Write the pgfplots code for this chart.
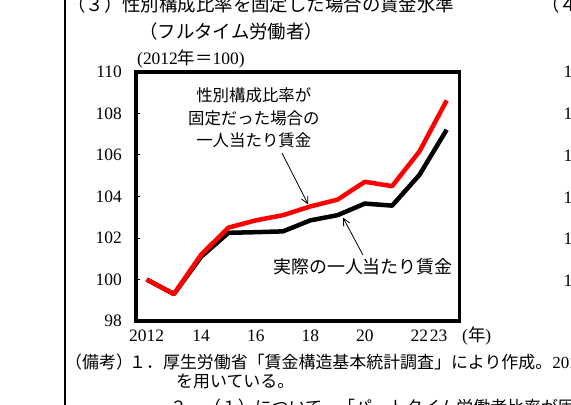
\documentclass[border=0pt]{standalone}
\usepackage{fontspec}
\setmainfont{Liberation Serif}
\newfontfamily\jp{Noto Sans CJK JP}
\usepackage{pgfplots}
\pgfplotsset{compat=1.18}
\usetikzlibrary{arrows.meta}

\newcommand\fs[2]{\fontsize{#1}{#2}\selectfont}

\begin{document}
\begin{tikzpicture}[x=1bp,y=1bp]
\useasboundingbox (0,0) rectangle (571,404);
\clip (0,0) rectangle (571,404);

% page frame and headings
\draw[line width=1.2bp] (65,-5) -- (65,410);
\node[anchor=base west, inner sep=0pt] at (67,392.5) {\jp\fs{18.5}{20}（３）性別構成比率を固定した場合の賃金水準};
\node[anchor=base west, inner sep=0pt] at (541,392.5) {\jp\fs{18.5}{20}（４）};
\node[anchor=base west, inner sep=0pt] at (139,365.5) {\jp\fs{18.5}{20}（フルタイム労働者）};
\node[anchor=base west, inner sep=0pt] at (137,340) {\fs{17.5}{18}(2012{\jp 年＝}100)};

% tick labels of the next panel, cut by the edge
\foreach \k/\v in {0/110,1/108,2/106,3/104,4/102,5/100}
  \node[anchor=west, inner sep=0pt] at (563.5,{404-72-41.8*\k}) {\fs{17.5}{18}\v};

% notes
\node[anchor=base west, inner sep=0pt] at (65,35.5) {\jp\fs{17}{18}（備考）};
\node[anchor=base west, inner sep=0pt] at (129,35.5) {\jp\fs{17}{18}１．厚生労働省「賃金構造基本統計調査」により作成。{\rmfamily 2019}年};
\node[anchor=base west, inner sep=0pt] at (176,16.5) {\jp\fs{17}{18}を用いている。};
\node[anchor=base west, inner sep=0pt] at (170,-9) {\jp\fs{17}{18}２．（１）について、「パートタイム労働者比率が固定だった};

\begin{axis}[
    at={(136bp,83bp)}, anchor=south west,
    scale only axis, width=323.5bp, height=249bp,
    xmin=2011.61, xmax=2023.47,
    ymin=98, ymax=110,
    xtick={2012,2014,2016,2018,2020,2022},
    xticklabels={2012,14,16,18,20,22},
    extra x ticks={2023},
    extra x tick labels={23},
    extra x tick style={xticklabel style={xshift=-8bp}},
    ytick={98,100,102,104,106,108,110},
    yticklabels={98,100,102,104,106,108,110},
    /pgf/number format/assume math mode=true,
    axis line style={line width=3.5bp},
    tick align=inside, ytick pos=left, xtick pos=bottom,
    major tick length=4bp,
    xtick style={draw=none},
    ytick style={line width=1bp, black},
    xticklabel style={font=\fs{17.5}{18}, anchor=north, inner sep=0pt, yshift=-9bp},
    yticklabel style={font=\fs{17.5}{18}, anchor=east, inner sep=0pt, xshift=-14bp},
    clip=false,
]
\addplot[black, line width=4.5bp, line join=round] coordinates {
(2012,100.0) (2013,99.3) (2014,101.1) (2015,102.25) (2016,102.28) (2017,102.32)
(2018,102.85) (2019,103.1) (2020,103.66) (2021,103.56) (2022,105.04) (2023,107.22)
};
\addplot[red, line width=4.5bp, line join=round] coordinates {
(2012,100.0) (2013,99.3) (2014,101.2) (2015,102.5) (2016,102.85) (2017,103.1)
(2018,103.52) (2019,103.85) (2020,104.71) (2021,104.5) (2022,106.17) (2023,108.63)
};

\node[align=center, font=\jp\fs{16.5}{22.5}] at (axis cs:2015.93,107.78)
  {性別構成比率が\\固定だった場合の\\一人当たり賃金};
\node[font=\jp\fs{18}{20}] at (axis cs:2019.93,100.6) {実際の一人当たり賃金};
\draw[-{Straight Barb[length=7bp,width=7bp]}, line width=0.8bp]
  (axis cs:2016.96,106.1) -- (axis cs:2017.92,103.62);
\draw[-{Straight Barb[length=7bp,width=7bp]}, line width=0.8bp]
  (axis cs:2019.93,101.18) -- (axis cs:2019.2,102.98);
\end{axis}

\node[anchor=base west, inner sep=0pt] at (462,62.5) {\fs{17.5}{18}({\jp 年})};
\end{tikzpicture}
\end{document}
